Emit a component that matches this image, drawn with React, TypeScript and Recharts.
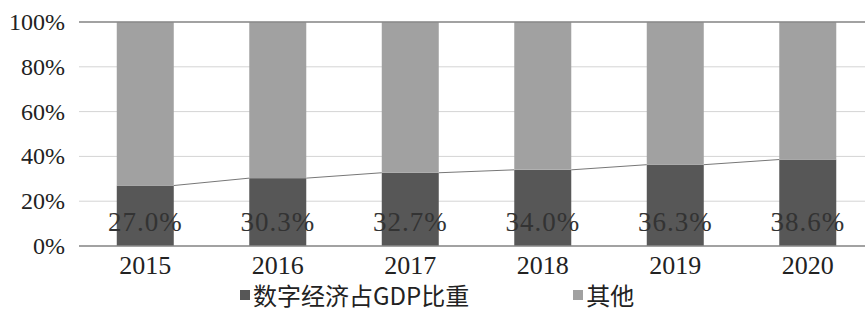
import React from 'react';
import { ComposedChart, Bar, XAxis, YAxis, CartesianGrid, Legend, LabelList, ReferenceLine } from 'recharts';

const years = ['2015', '2016', '2017', '2018', '2019', '2020'];
const digitalShare = [27.0, 30.3, 32.7, 34.0, 36.3, 38.6];
const otherShare = [73.0, 69.7, 67.3, 66.0, 63.7, 61.4];
const yTicks = [0, 20, 40, 60, 80, 100];

const DARK = '#575757';
const LIGHT = '#a1a1a1';
const SERIF = 'Liberation Serif';
const CJK = 'Noto Sans CJK SC';

const data = years.map((year, i) => ({
  year,
  digital: digitalShare[i],
  other: otherShare[i],
}));

// tops of the dark bars, filled while the bars draw, used for Excel-style series lines
const barTops: { x: number; y: number }[] = [];

function DarkBar(props: any) {
  const { x, y, width, height, index } = props;
  barTops[index] = { x: x + width, y };
  const prev = index > 0 ? barTops[index - 1] : null;
  return (
    <g>
      <rect x={x} y={y} width={width} height={height} fill={DARK} />
      {prev && <line x1={prev.x} y1={prev.y} x2={x} y2={y} stroke="#777" strokeWidth={1} />}
    </g>
  );
}

function YearTick(props: any) {
  const { x, y, payload } = props;
  return (
    <text x={x} y={y + 26} textAnchor="middle" style={{ fontFamily: SERIF, fontSize: 26, fill: '#222' }}>
      {payload.value}
    </text>
  );
}

function PctTick(props: any) {
  const { x, y, payload } = props;
  return (
    <text x={x - 12} y={y + 8} textAnchor="end" style={{ fontFamily: SERIF, fontSize: 24, fill: '#222' }}>
      {`${payload.value}%`}
    </text>
  );
}

function ValueLabel(props: any) {
  const { x, y, width, height, value } = props;
  return (
    <text
      x={x + width / 2}
      y={y + height - 15}
      textAnchor="middle"
      style={{ fontFamily: SERIF, fontSize: 27, fill: '#333', letterSpacing: 1 }}
    >
      {`${Number(value).toFixed(1)}%`}
    </text>
  );
}

function LegendBox() {
  const item = (color: string, text: string, mr: number) => (
    <span style={{ display: 'inline-flex', alignItems: 'center', marginRight: mr }}>
      <span style={{ width: 10, height: 10, background: color, marginRight: 3, display: 'inline-block' }} />
      <span style={{ fontFamily: CJK, fontSize: 24, color: '#222', lineHeight: '24px' }}>{text}</span>
    </span>
  );
  return (
    <div style={{ paddingLeft: 240, display: 'flex', height: 24 }}>
      {item(DARK, '数字经济占GDP比重', 104)}
      {item(LIGHT, '其他', 0)}
    </div>
  );
}

export default function App() {
  return (
    <div style={{ position: 'absolute', left: 0, top: 0, width: 865, height: 311, overflow: 'hidden', background: '#fff' }}>
      <ComposedChart
        width={880}
        height={311}
        data={data}
        margin={{ top: 22, right: 6, bottom: 4, left: 0 }}
        barCategoryGap="28.5%"
      >
        <CartesianGrid vertical={false} stroke="#d4d4d4" />
        <XAxis
          dataKey="year"
          tickLine={false}
          tickSize={0}
          height={37}
          axisLine={{ stroke: '#8a8a8a', strokeWidth: 1.5 }}
          tick={YearTick}
        />
        <YAxis
          domain={[0, 100]}
          ticks={yTicks}
          width={79}
          tickLine={false}
          tickSize={0}
          axisLine={false}
          tick={PctTick}
        />
        <ReferenceLine y={100} stroke="#8a8a8a" strokeWidth={1.5} />
        <Bar dataKey="digital" stackId="a" fill={DARK} shape={DarkBar} isAnimationActive={false}>
          <LabelList dataKey="digital" content={ValueLabel} />
        </Bar>
        <Bar dataKey="other" stackId="a" fill={LIGHT} isAnimationActive={false} />
        <Legend verticalAlign="bottom" height={24} content={() => <LegendBox />} />
      </ComposedChart>
    </div>
  );
}
